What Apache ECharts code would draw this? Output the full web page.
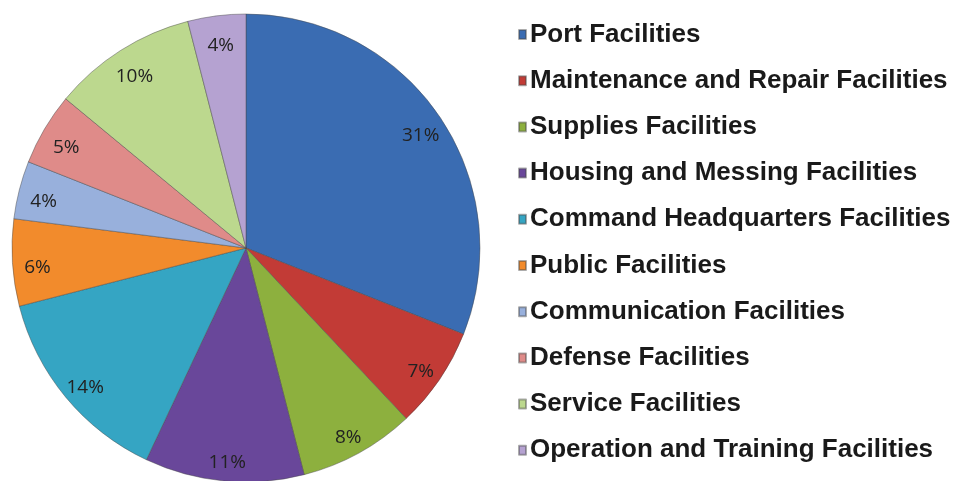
<!DOCTYPE html>
<html>
<head>
<meta charset="utf-8">
<script src="https://cdn.jsdelivr.net/npm/echarts@6/dist/echarts.min.js"></script>
<style>html,body{margin:0;padding:0;background:#fff}#c{width:963px;height:481px}</style>
</head>
<body>
<div id="c"></div>
<script>
const categories = [
  'Port Facilities',
  'Maintenance and Repair Facilities',
  'Supplies Facilities',
  'Housing and Messing Facilities',
  'Command Headquarters Facilities',
  'Public Facilities',
  'Communication Facilities',
  'Defense Facilities',
  'Service Facilities',
  'Operation and Training Facilities'
];
const values = [31, 7, 8, 11, 14, 6, 4, 5, 10, 4];
const colors = ['#3A6CB2', '#C23B36', '#8DB03E', '#69479A', '#35A5C3', '#F28B2C', '#98B0DC', '#DF8B89', '#BCD88E', '#B5A2D1'];

const data = categories.map((name, i) => ({ name: name, value: values[i] }));
const chart = echarts.init(document.getElementById('c'), null, { renderer: 'canvas' });
chart.setOption({
  animation: false,
  color: colors,
  legend: {
    orient: 'vertical',
    left: 513,
    top: 15,
    itemWidth: 7,
    itemHeight: 9,
    itemGap: 17.2,
    icon: 'rect',
    data: categories,
    textStyle: {
      fontFamily: '"Liberation Sans", Arial, sans-serif',
      fontWeight: 'bold',
      fontSize: 26,
      lineHeight: 29,
      color: '#1a1a1a',
      padding: [0, 0, 0, -1]
    }
  },
  series: [
    {
      type: 'pie',
      center: [246, 248],
      radius: [0, 234],
      startAngle: 90,
      clockwise: true,
      data: data,
      label: { show: false },
      labelLine: { show: false },
      itemStyle: { borderColor: 'rgba(70,70,70,0.45)', borderWidth: 1 }
    },
    {
      type: 'pie',
      center: [247, 254],
      radius: [180, 234],
      startAngle: 90,
      clockwise: true,
      silent: true,
      legendHoverLink: false,
      data: data,
      itemStyle: { color: 'rgba(0,0,0,0)', borderWidth: 0 },
      label: {
        show: true,
        position: 'inside',
        formatter: '{c}%',
        fontFamily: '"Open Sans", Lato, sans-serif',
        fontSize: 19,
        color: '#222222'
      },
      labelLine: { show: false }
    }
  ]
});
</script>
</body>
</html>
